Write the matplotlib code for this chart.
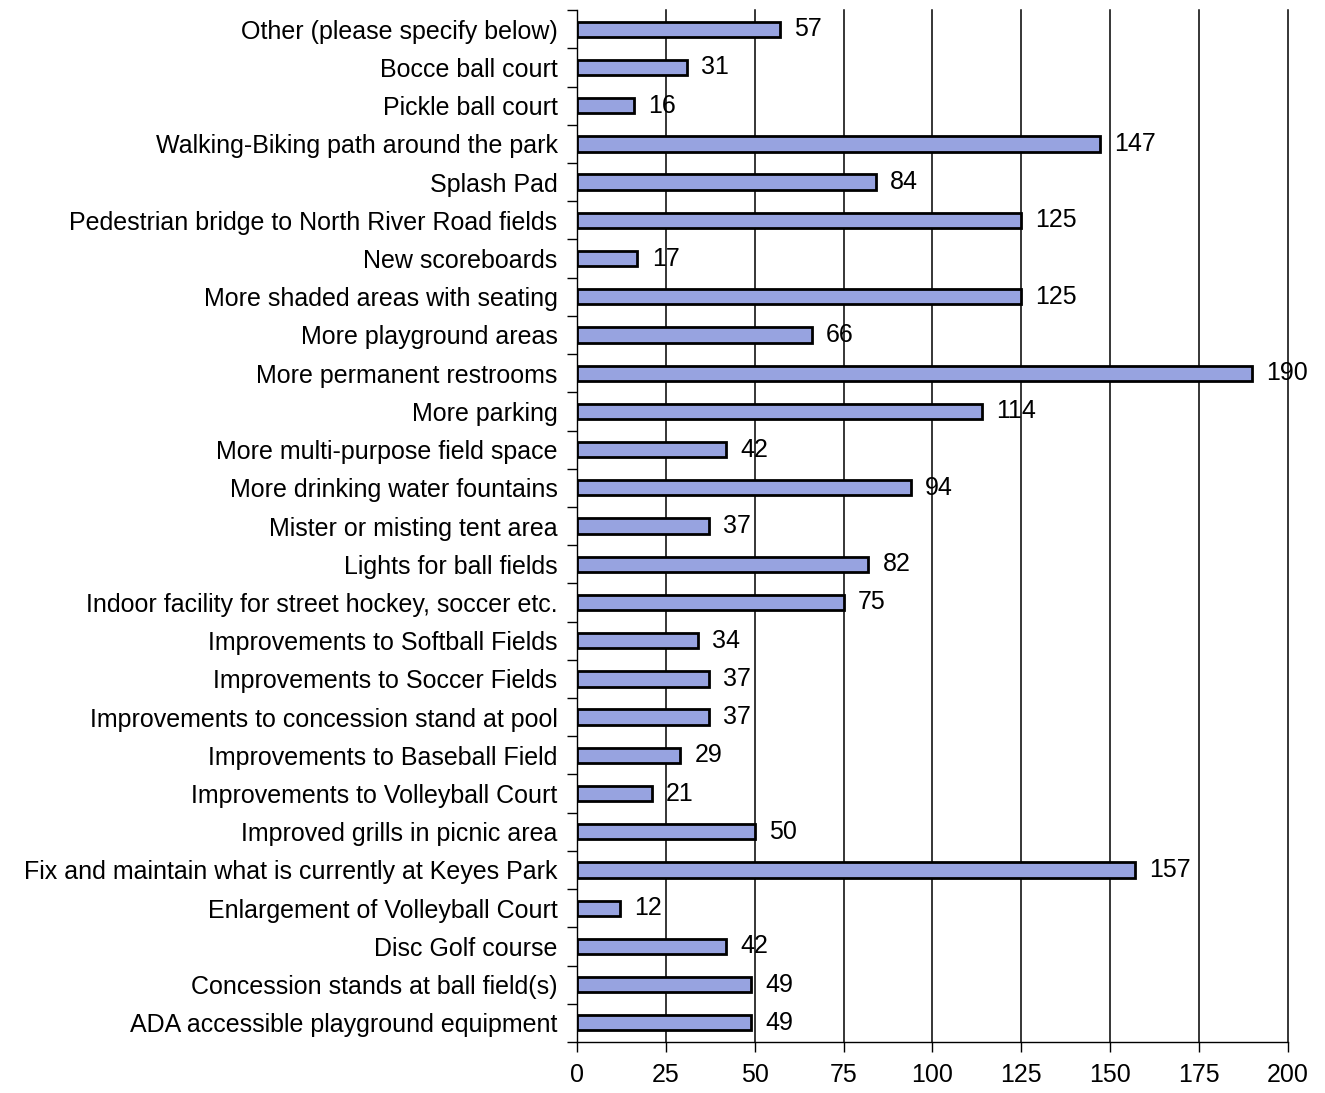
import matplotlib.pyplot as plt
import numpy as np

plt.rcParams['font.family'] = ['Liberation Sans', 'DejaVu Sans']

# bottom to top
categories = [
    "ADA accessible playground equipment",
    "Concession stands at ball field(s)",
    "Disc Golf course",
    "Enlargement of Volleyball Court",
    "Fix and maintain what is currently at Keyes Park",
    "Improved grills in picnic area",
    "Improvements to Volleyball Court",
    "Improvements to Baseball Field",
    "Improvements to concession stand at pool",
    "Improvements to Soccer Fields",
    "Improvements to Softball Fields",
    "Indoor facility for street hockey, soccer etc.",
    "Lights for ball fields",
    "Mister or misting tent area",
    "More drinking water fountains",
    "More multi-purpose field space",
    "More parking",
    "More permanent restrooms",
    "More playground areas",
    "More shaded areas with seating",
    "New scoreboards",
    "Pedestrian bridge to North River Road fields",
    "Splash Pad",
    "Walking-Biking path around the park",
    "Pickle ball court",
    "Bocce ball court",
    "Other (please specify below)",
]
values = [49, 49, 42, 12, 157, 50, 21, 29, 37, 37, 34, 75, 82, 37, 94, 42,
          114, 190, 66, 125, 17, 125, 84, 147, 16, 31, 57]
x_ticks = [0, 25, 50, 75, 100, 125, 150, 175, 200]

fig = plt.figure(figsize=(13.25, 10.93), dpi=100)
ax = fig.add_axes([0.4355, 0.0467, 0.5365, 0.944])

y = np.arange(len(categories))
ax.barh(y, values, height=0.4, color="#97a3e0", edgecolor="black", linewidth=2, zorder=3)

for yi, v in zip(y, values):
    ax.text(v + 4, yi, str(v), va="center", ha="left", fontsize=18, zorder=4)

ax.set_xlim(0, 200)
ax.set_ylim(-0.5, len(categories) - 0.5)
ax.set_xticks(x_ticks)
ax.set_xticklabels([str(t) for t in x_ticks], fontsize=18)
ax.set_yticks(y)
ax.set_yticklabels(categories, fontsize=18)
ax.set_yticks(np.arange(-0.5, len(categories), 1.0), minor=True)
ax.tick_params(axis="y", which="major", length=0, pad=14)
ax.tick_params(axis="y", which="minor", length=7, width=1, direction="out")
ax.tick_params(axis="x", length=7, width=1, direction="out", pad=8)

for t in x_ticks[1:]:
    ax.axvline(t, color="black", linewidth=1.1, zorder=0, clip_on=False)
ax.spines["top"].set_visible(False)
ax.spines["right"].set_visible(False)
ax.spines["left"].set_linewidth(1)
ax.spines["bottom"].set_linewidth(1)

plt.savefig("out.png", dpi=100)
